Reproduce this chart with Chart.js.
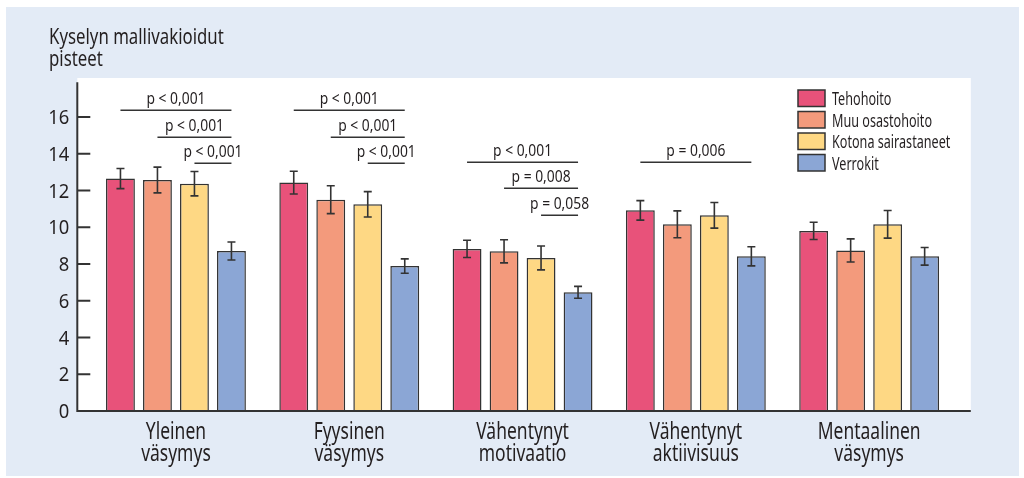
<!DOCTYPE html>
<html>
<head>
<meta charset="utf-8">
<script src="https://cdn.jsdelivr.net/npm/chart.js@4.4.0/dist/chart.umd.min.js"></script>
<style>
html, body { margin: 0; padding: 0; background: #fff; }
</style>
</head>
<body>
<canvas id="chart" width="1024" height="478"></canvas>
<script>
// Kategoriat ja sarjat
const categories = [['Yleinen', 'väsymys'], ['Fyysinen', 'väsymys'], ['Vähentynyt', 'motivaatio'], ['Vähentynyt', 'aktiivisuus'], ['Mentaalinen', 'väsymys']];
const seriesNames = ['Tehohoito', 'Muu osastohoito', 'Kotona sairastaneet', 'Verrokit'];
const seriesColors = ['#e8527a', '#f39a7c', '#fed884', '#8ba6d5'];

const tehohoito = [12.65, 12.43, 8.82, 10.92, 9.80];
const muuOsastohoito = [12.57, 11.50, 8.69, 10.16, 8.74];
const kotonaSairastaneet = [12.37, 11.25, 8.33, 10.65, 10.16];
const verrokit = [8.71, 7.89, 6.46, 8.42, 8.42];

// Keskivirheet (puolet virhepalkista)
const tehohoitoErr = [0.55, 0.62, 0.47, 0.53, 0.47];
const muuOsastohoitoErr = [0.70, 0.76, 0.63, 0.73, 0.63];
const kotonaSairastaneetErr = [0.66, 0.69, 0.65, 0.70, 0.75];
const verrokitErr = [0.49, 0.39, 0.32, 0.52, 0.48];

// Merkitsevyydet: ryhmä, mistä sarjasta Verrokkeihin, taso ja teksti
const pGroup = [0, 0, 0, 1, 1, 1, 2, 2, 2, 3];
const pFrom = [0, 1, 2, 0, 1, 2, 0, 1, 2, 0];
const pLevel = [16.40, 14.93, 13.48, 16.40, 14.93, 13.48, 13.57, 12.11, 10.67, 13.57];
const pText = ['p < 0,001', 'p < 0,001', 'p < 0,001', 'p < 0,001', 'p < 0,001', 'p < 0,001',
               'p < 0,001', 'p = 0,008', 'p = 0,058', 'p = 0,006'];

const yTitle = ['Kyselyn mallivakioidut', 'pisteet'];

const values = [tehohoito, muuOsastohoito, kotonaSairastaneet, verrokit];
const errors = [tehohoitoErr, muuOsastohoitoErr, kotonaSairastaneetErr, verrokitErr];

const FONT = "'Noto Sans', sans-serif";
const INK = '#231f20';
Chart.defaults.font.family = FONT;
Chart.defaults.color = INK;

// Kapeutettu teksti (alkuperäinen fontti on condensed)
function condText(ctx, text, x, y, size, align, sx) {
    ctx.save();
    ctx.font = size + 'px ' + FONT;
    ctx.textAlign = align;
    ctx.textBaseline = 'alphabetic';
    ctx.fillStyle = INK;
    ctx.translate(x, y);
    ctx.scale(sx, 1);
    ctx.fillText(text, 0, 0);
    ctx.restore();
}

// Tausta, akselit, virhepalkit, merkitsevyydet, selite ja otsikko
const decorPlugin = {
    id: 'decor',
    beforeDraw(chart) {
        const { ctx, chartArea: a, scales: { y } } = chart;
        ctx.save();
        ctx.fillStyle = '#fff';
        ctx.fillRect(0, 0, chart.width, chart.height);
        ctx.fillStyle = '#e3ebf6';
        ctx.fillRect(6, 7, 1013, 469);
        ctx.fillStyle = '#fff';
        ctx.fillRect(a.left - 12, 78, a.right + 15 - (a.left - 12), y.bottom - 78);
        ctx.restore();
    },
    afterDatasetsDraw(chart) {
        const { ctx, chartArea: a, scales: { x, y } } = chart;
        ctx.save();
        ctx.strokeStyle = '#333';
        ctx.lineWidth = 1.6;

        // Virhepalkit
        values.forEach((arr, d) => {
            const meta = chart.getDatasetMeta(d);
            arr.forEach((v, i) => {
                const px = meta.data[i].x;
                const hi = y.getPixelForValue(v + errors[d][i]);
                const lo = y.getPixelForValue(v - errors[d][i]);
                ctx.beginPath();
                ctx.moveTo(px, hi); ctx.lineTo(px, lo);
                ctx.moveTo(px - 4, hi); ctx.lineTo(px + 4, hi);
                ctx.moveTo(px - 4, lo); ctx.lineTo(px + 4, lo);
                ctx.stroke();
            });
        });

        // Akselit ja sisäänpäin osoittavat merkit
        const axLeft = a.left - 12;
        ctx.lineWidth = 2;
        ctx.beginPath();
        ctx.moveTo(axLeft, a.top + 2);
        ctx.lineTo(axLeft, y.bottom);
        ctx.lineTo(a.right + 15, y.bottom);
        y.ticks.forEach(t => {
            const py = y.getPixelForValue(t.value);
            ctx.moveTo(axLeft, py);
            ctx.lineTo(axLeft + 13, py);
        });
        ctx.stroke();

        // Akselien tekstit
        y.ticks.forEach(t => {
            const py = y.getPixelForValue(t.value);
            condText(ctx, String(t.value), axLeft - 8, py + 7.2, 20, 'right', 0.92);
        });
        categories.forEach((lines, i) => {
            const px = x.getPixelForTick(i);
            lines.forEach((s, k) => condText(ctx, s, px, y.bottom + 28 + k * 22, 23, 'center', 0.76));
        });

        // Merkitsevyysviivat
        const target = chart.getDatasetMeta(3);
        ctx.lineWidth = 1.5;
        pGroup.forEach((g, k) => {
            const x1 = chart.getDatasetMeta(pFrom[k]).data[g].x;
            const x2 = target.data[g].x;
            const py = Math.round(y.getPixelForValue(pLevel[k])) + 0.25;
            ctx.beginPath();
            ctx.moveTo(x1, py); ctx.lineTo(x2, py);
            ctx.stroke();
            condText(ctx, pText[k], (x1 + x2) / 2, py - 6, 16.5, 'center', 0.84);
        });
        ctx.restore();
    },
    afterDraw(chart) {
        const { ctx } = chart;
        ctx.save();
        // Selite
        chart.data.datasets.forEach((ds, i) => {
            const top = 90 + i * 21.5;
            ctx.fillStyle = ds.backgroundColor;
            ctx.fillRect(798, top, 27, 16.5);
            ctx.strokeStyle = '#333';
            ctx.lineWidth = 1.5;
            ctx.strokeRect(798, top, 27, 16.5);
            condText(ctx, ds.label, 832, top + 15, 18, 'left', 0.70);
        });
        // Y-akselin otsikko
        condText(ctx, yTitle[0], 49, 43.5, 21, 'left', 0.8);
        condText(ctx, yTitle[1], 49, 66, 21, 'left', 0.8);
        ctx.restore();
    }
};

new Chart(document.getElementById('chart'), {
    type: 'bar',
    data: {
        labels: categories,
        datasets: seriesNames.map((name, d) => ({
            label: name,
            data: values[d],
            backgroundColor: seriesColors[d],
            borderColor: '#333',
            borderWidth: 1.5,
            categoryPercentage: 0.854,
            barPercentage: 0.78
        }))
    },
    options: {
        responsive: false,
        devicePixelRatio: 1,
        animation: false,
        layout: {
            padding: { left: 0, right: 68.2, top: 80.25, bottom: 0 }
        },
        plugins: {
            legend: { display: false },
            tooltip: { enabled: false }
        },
        scales: {
            x: {
                grid: { display: false },
                border: { display: false },
                ticks: { display: false },
                afterFit(s) { s.height = 67; }
            },
            y: {
                min: 0,
                max: 18,
                grid: { display: false },
                border: { display: false },
                ticks: { display: false, stepSize: 2 },
                afterBuildTicks(s) { s.ticks = s.ticks.filter(t => t.value <= 16); },
                afterFit(s) { s.width = 89.3; }
            }
        }
    },
    plugins: [decorPlugin]
});
</script>
</body>
</html>
